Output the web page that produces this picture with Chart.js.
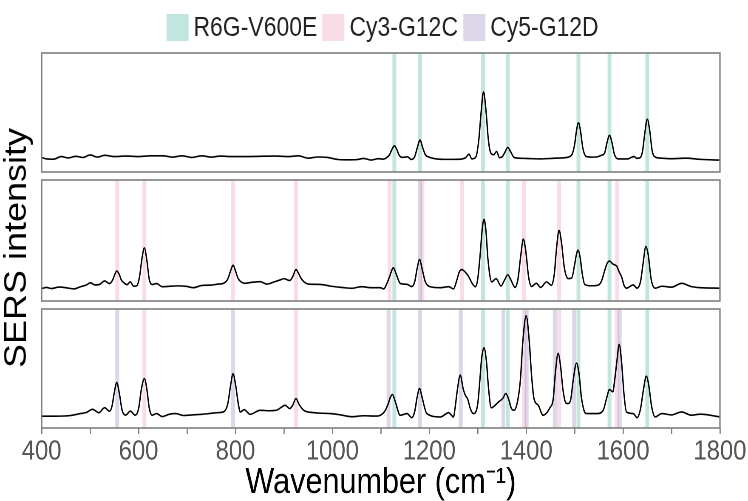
<!DOCTYPE html>
<html>
<head>
<meta charset="utf-8">
<script src="https://cdn.jsdelivr.net/npm/chart.js@4"></script>
<style>
  html, body { margin: 0; padding: 0; background: #fff; overflow: hidden; }
  /* whole figure is drawn wider, then squeezed like the original */
  #fig { position: absolute; left: 0; top: 0; width: 880px; height: 501px;
         transform: scaleX(0.85); transform-origin: 0 0;
         font-family: "Liberation Sans", Arial, sans-serif; }
  #fig canvas { position: absolute; left: 0; }
  #legend { position: absolute; left: 13px; top: 14px; width: 880px; height: 27px;
            display: flex; justify-content: center; align-items: center; }
  #legend .sq { width: 26px; height: 27px; margin-right: 6px; }
  #legend .lbl { font-size: 27px; line-height: 27px; color: #222; margin-right: 6px; }
  #ytitle { position: absolute; left: 18px; top: 248px; font-size: 36px; color: #000;
            white-space: nowrap; transform: translate(-50%, -50%) rotate(-90deg); }
</style>
</head>
<body>
<div id="fig">
  <div id="legend"></div>
  <div id="ytitle">SERS intensity</div>
  <canvas id="c1" width="880" height="128" style="top:48px"></canvas>
  <canvas id="c2" width="880" height="129" style="top:176px"></canvas>
  <canvas id="c3" width="880" height="196" style="top:305px"></canvas>
</div>
<script>
// legend / band groups
const groupNames = ['R6G-V600E', 'Cy3-G12C', 'Cy5-G12D'];
const groupColors = ['#c2e6df', '#f8dde9', '#dcd6e9'];

// x axis
const xMin = 400;
const xMax = 1800;
const xStep = 100;
const xLabelEvery = 200;

// panel 1 : R6G-V600E
const p1Wn = [400,410,425,440,455,470,485,500,515,530,550,575,600,625,650,670,690,710,730,750,770,790,820,850,880,910,930,950,970,990,1010,1030,1050,1065,1080,1095,1105,1112,1118,1123,1128,1133,1138,1145,1155,1163,1170,1175,1181,1186,1192,1200,1215,1240,1265,1275,1282,1288,1296,1302,1307,1312,1317,1322,1327,1333,1339,1345,1351,1356,1362,1368,1375,1385,1400,1430,1460,1480,1490,1495,1500,1504,1508,1512,1517,1524,1535,1545,1555,1562,1567,1572,1577,1582,1590,1600,1610,1618,1623,1628,1635,1640,1645,1650,1655,1660,1668,1680,1700,1730,1760,1800];
const p1Int = [12.2,11,10.8,13,11.8,13.2,12.2,14.3,12.5,14,13,13.4,13,13.6,13.6,12.5,13.6,12.2,13.6,12.5,13.4,13,13,13.2,13.4,13,13.6,11.6,12.6,12.2,10.6,10.2,10.4,11.4,10,11.2,10.8,12,14.5,19,22,19,14,12.3,12.8,10.5,13,20,26.8,21,14.5,12.5,11,10.6,10.8,12,15,11,12.5,26,50,67.3,52,27,16,14.5,17.2,12,13,16.5,20.7,17,12.3,11.6,11.4,11,11.6,12,13,15,23,35,41.3,35,20,13,12.5,12.6,14,16,25,30.7,25,15,11,11,11,12.5,13,11.5,12,17,33,44.4,35,18,12.3,11.6,11.2,11.6,10.6,10];

// panel 2 : Cy3-G12C
const p2Wn = [400,410,420,436,450,467,480,491,501,510,520,530,540,546,551,555,560,565,570,576,583,590,596,602,607,612,617,622,628,637,649,660,680,700,713,730,750,765,775,784,790,795,800,805,810,820,830,851,865,880,893,900,912,918,925,930,935,941,950,960,980,996,1020,1040,1060,1080,1099,1106,1112,1118,1126,1132,1140,1154,1164,1170,1175,1180,1185,1192,1202,1223,1240,1250,1256,1262,1267,1274,1281,1288,1295,1300,1305,1309,1313,1317,1321,1329,1338,1348,1355,1362,1369,1377,1383,1389,1394,1399,1405,1411,1421,1430,1442,1452,1458,1463,1468,1473,1479,1487,1494,1500,1504,1507,1511,1516,1521,1535,1548,1555,1562,1567,1572,1579,1587,1592,1597,1602,1607,1621,1629,1636,1641,1647,1652,1658,1666,1680,1700,1721,1740,1760,1800];
const p2Int = [10.3,11.2,10.3,11.5,11,10,11.8,13,15,13.3,13.8,16.6,14.4,17,22,24.9,22,17,15,13.5,15.8,12.2,12.5,20,35,43.9,34,18,13.6,14.4,11.8,12,12.5,12,11,12.8,13.2,14,14.6,18,25,29.6,25,19,16.3,14.6,15.2,16,14,15.8,17.5,18.5,16.9,20,26,23,19,16,14,13.8,13.5,12.3,11.2,10.5,11.8,11,11,10,14,20,27.4,22,14.6,13.8,11.9,16,27,34.3,27,15.8,11.8,11,11.8,10,16,24,26,24,20.4,15,11.8,18,38,58,67.4,58,35,15.8,18.5,12.4,17,21.7,17,11.2,18,38,51.1,42,20,12,14.6,11.2,15.8,13,22,45,58.3,48,27,18.5,19,30,39,42,37,22,13.6,12.6,13,16,25,31,33,30.5,28.7,24,20,13,10.6,13.3,10.6,16,30,45,38,18,10.6,12.2,11.4,14.6,12,11,10.6];

// panel 3 : Cy5-G12D
const p3Wn = [400,430,460,480,492,505,518,530,540,545,550,555,560,566,573,583,593,600,606,612,617,622,628,637,649,663,677,692,710,730,745,762,775,784,790,795,800,806,810,818,830,851,870,885,903,912,918,925,931,941,962,980,996,1017,1041,1065,1090,1099,1108,1115,1120,1124,1130,1140,1154,1164,1170,1175,1180,1185,1195,1223,1240,1250,1253,1258,1264,1270,1275,1279,1285,1291,1300,1304,1308,1313,1318,1322,1328,1337,1343,1352,1358,1364,1370,1375,1382,1388,1393,1400,1406,1411,1416,1425,1435,1449,1456,1460,1466,1471,1476,1482,1486,1492,1497,1504,1509,1514,1520,1525,1546,1559,1566,1572,1579,1582,1587,1592,1597,1602,1607,1621,1629,1636,1642,1648,1653,1659,1666,1680,1700,1721,1740,1760,1800];
const p3Int = [9.9,9.9,10.5,12.1,13,15.7,12.9,17.1,14.1,18,30,38.2,30,15,10.8,14.1,10.8,16,33,41.6,33,17,10.8,12.1,9.6,11.5,12.1,10.5,11,11.5,12.1,12.9,13.5,20,36,45.5,37,20,13.5,15.4,11.5,14.9,14.5,15,19.1,16.3,19,24.7,20,14.9,12.9,12.4,12.1,11,9.5,10.3,10,10.7,14,20,26,28.1,22,10.7,12.1,8.7,14,26,33.2,26,12.1,9.3,12.9,9.3,16,32,44.4,33,27,24.7,16,12.1,20,38,58,67.4,56,35,17,19.5,21.9,25,28.9,24,16,14.9,22,40,72,94.4,75,45,25,19.1,10.7,17,25,45,62.7,52,32,21,20.5,24,40,54.5,46,26,14,12.1,12.1,14.9,25,32.3,30.4,38,55,70.2,55,28,13.5,12.1,8.7,16,32,43.5,36,18,9.3,12.1,11,13.5,10.8,11.6,9.3];

// shaded band centres (cm-1), per panel and group
const p1Teal = [1128,1181,1311,1362,1508,1572,1650];
const p2Teal = [1128,1311,1362,1508,1572,1650];
const p2Pink = [556,612,795,925,1118,1186,1268,1395,1468,1588];
const p2Lav  = [1181];
const p3Teal = [1128,1311,1362,1508,1572,1650];
const p3Pink = [612,925,1396,1468,1587];
const p3Lav  = [556,795,1116,1181,1265,1353,1401,1459,1499,1593];

const bandHalf = 4;      // half width of a band, cm-1
const borderColor = '#7f7f7f';

// legend
const legend = document.getElementById('legend');
groupNames.forEach((name, i) => {
  const sq = document.createElement('div');
  sq.className = 'sq';
  sq.style.background = groupColors[i];
  const lbl = document.createElement('div');
  lbl.className = 'lbl';
  lbl.textContent = name;
  legend.appendChild(sq);
  legend.appendChild(lbl);
});

// bands under the spectrum
const bandPlugin = {
  id: 'bands',
  beforeDatasetsDraw(chart, args, opts) {
    const {ctx, chartArea, scales} = chart;
    ctx.save();
    ctx.globalCompositeOperation = 'multiply';
    (opts.groups || []).forEach(g => {
      ctx.fillStyle = g.color;
      g.centres.forEach(c => {
        const x0 = scales.x.getPixelForValue(c - bandHalf);
        const x1 = scales.x.getPixelForValue(c + bandHalf);
        ctx.fillRect(x0, chartArea.top, x1 - x0, chartArea.bottom - chartArea.top);
      });
    });
    ctx.restore();
  }
};

// frame around every panel
const framePlugin = {
  id: 'frame',
  afterDraw(chart) {
    const {ctx, chartArea: a} = chart;
    ctx.save();
    ctx.strokeStyle = borderColor;
    ctx.lineWidth = 1.6;
    ctx.strokeRect(a.left, a.top, a.right - a.left, a.bottom - a.top);
    ctx.restore();
  }
};

function makePanel(id, wn, vals, groups, padTop, padBottom, showAxis) {
  const data = wn.map((x, i) => ({x: x, y: vals[i]}));
  return new Chart(document.getElementById(id), {
    type: 'line',
    data: {
      datasets: [{
        data: data,
        borderColor: '#000',
        borderWidth: 1.6,
        pointRadius: 0,
        cubicInterpolationMode: 'monotone',
        fill: false
      }]
    },
    options: {
      responsive: false,
      animation: false,
      devicePixelRatio: 2,
      layout: { padding: { left: 49, right: 33, top: padTop, bottom: padBottom } },
      plugins: {
        legend: { display: false },
        tooltip: { enabled: false },
        bands: { groups: groups }
      },
      scales: {
        x: {
          type: 'linear',
          min: xMin,
          max: xMax,
          display: showAxis,
          afterFit(scale) { if (showAxis) scale.height = 73; },
          border: { display: false },
          grid: { drawOnChartArea: false, drawTicks: true, tickLength: 6, color: borderColor, lineWidth: 1.4 },
          ticks: {
            stepSize: xStep,
            autoSkip: false,
            maxRotation: 0,
            padding: 1,
            color: '#555',
            font: { family: '"Liberation Sans", Arial, sans-serif', size: 28 },
            callback: v => (v % xLabelEvery === 0 ? String(v) : '')
          },
          title: {
            display: showAxis,
            text: 'Wavenumber (cm\u207B\u00B9)',
            color: '#000',
            padding: { top: 0, bottom: 0 },
            font: { family: '"Liberation Sans", Arial, sans-serif', size: 36, lineHeight: 1 }
          }
        },
        y: { min: 0, max: 100, display: false }
      }
    },
    plugins: [bandPlugin, framePlugin]
  });
}

makePanel('c1', p1Wn, p1Int, [
  {color: groupColors[0], centres: p1Teal}
], 5, 4, false);

makePanel('c2', p2Wn, p2Int, [
  {color: groupColors[1], centres: p2Pink},
  {color: groupColors[2], centres: p2Lav},
  {color: groupColors[0], centres: p2Teal}
], 4, 4, false);

makePanel('c3', p3Wn, p3Int, [
  {color: groupColors[1], centres: p3Pink},
  {color: groupColors[2], centres: p3Lav},
  {color: groupColors[0], centres: p3Teal}
], 4, 0, true);
</script>
</body>
</html>
